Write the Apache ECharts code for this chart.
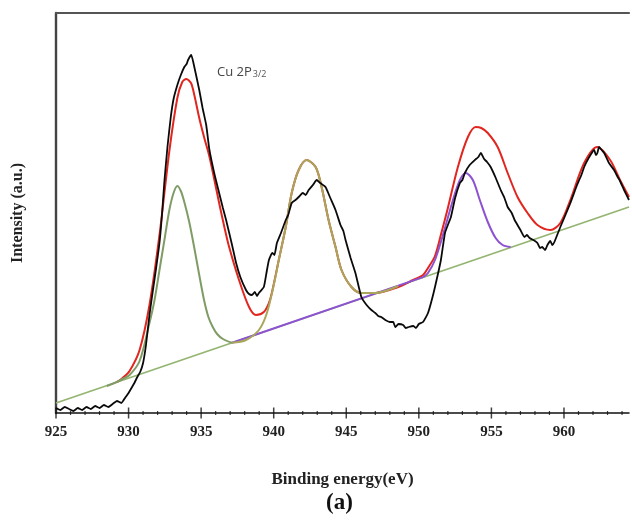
<!DOCTYPE html>
<html>
<head>
<meta charset="utf-8">
<script src="https://cdn.jsdelivr.net/npm/echarts@6/dist/echarts.min.js"></script>
<style>
  html, body { margin: 0; padding: 0; background: #fff; }
  #chart { width: 632px; height: 527px; }
</style>
</head>
<body>
<div id="chart"></div>
<script>
// Cu 2p XPS spectrum: binding energy (eV) vs intensity (arbitrary units)
const energyTicks = [925, 930, 935, 940, 945, 950, 955, 960];
const minorEnergyTicks = [
  926, 927, 928, 929, 931, 932, 933, 934, 936, 937, 938, 939, 941, 942, 943, 944,
  946, 947, 948, 949, 951, 952, 953, 954, 956, 957, 958, 959, 961, 962, 963, 964
];

// measured spectrum [eV, intensity]
const measured = [
  [925.0, 5], [925.3, 3], [925.6, 6], [925.9, 4], [926.2, 2], [926.5, 5], [926.8, 3],
  [927.1, 6], [927.4, 4], [927.7, 7], [928.0, 5], [928.3, 8], [928.6, 6], [928.9, 9],
  [929.2, 12], [929.5, 10], [929.8, 16], [930.0, 20], [930.2, 25], [930.4, 30],
  [930.6, 36], [930.8, 41], [931.0, 50], [931.2, 68], [931.44, 98], [931.7, 125],
  [931.9, 145], [932.13, 170], [932.3, 198], [932.47, 232], [932.68, 266], [932.9, 295],
  [933.1, 314], [933.36, 328], [933.6, 338], [933.84, 346], [934.0, 349], [934.1, 353],
  [934.32, 358], [934.5, 348], [934.87, 323], [935.1, 305], [935.35, 288], [935.56, 264],
  [935.9, 240], [936.24, 220], [936.5, 205], [936.72, 193], [937.13, 168], [937.41, 150],
  [937.7, 136], [938.09, 123], [938.3, 119], [938.5, 118], [938.7, 121], [938.85, 117],
  [938.98, 120], [939.32, 126], [939.5, 140], [939.67, 153], [939.9, 160], [940.05, 158],
  [940.22, 170], [940.5, 180], [940.83, 193], [941.0, 198], [941.24, 210], [941.5, 213],
  [941.72, 216], [942.0, 220], [942.2, 218], [942.41, 223], [942.7, 228], [942.96, 233],
  [943.2, 230], [943.57, 226], [943.9, 215], [944.26, 203], [944.6, 188], [944.8, 182],
  [944.95, 173], [945.3, 155], [945.63, 140], [946.04, 116], [946.4, 108], [946.73, 103],
  [947.0, 100], [947.2, 97], [947.41, 96], [947.69, 93], [948.0, 91], [948.24, 91],
  [948.37, 86], [948.6, 89], [948.92, 88], [949.1, 85], [949.3, 86], [949.61, 87],
  [949.8, 85], [950.0, 89], [950.29, 91], [950.63, 100], [950.98, 118], [951.3, 138],
  [951.52, 153], [951.8, 180], [952.0, 188], [952.21, 196], [952.5, 215], [952.83, 230],
  [953.0, 233], [953.17, 240], [953.5, 248], [953.86, 253], [954.1, 256], [954.27, 260],
  [954.5, 254], [954.7, 251], [954.95, 246], [955.3, 235], [955.64, 223], [955.9, 215],
  [956.12, 206], [956.4, 200], [956.6, 193], [957.0, 183], [957.28, 176], [957.45, 178],
  [957.63, 175], [958.0, 172], [958.17, 170], [958.35, 165], [958.5, 166], [958.7, 163],
  [958.86, 168], [959.06, 172], [959.2, 168], [959.34, 171], [959.75, 186], [960.1, 198],
  [960.44, 210], [960.9, 228], [961.2, 238], [961.39, 246], [961.7, 255], [962.08, 263],
  [962.2, 258], [962.3, 260], [962.42, 266], [962.6, 263], [962.77, 260], [963.1, 250],
  [963.45, 243], [963.7, 236], [963.86, 232], [964.14, 223], [964.48, 213]
];

// total fitted envelope
const envelope = [
  [929.2, 31], [929.59, 35], [930.07, 42], [930.76, 63], [931.44, 108], [932.13, 178],
  [932.81, 262], [933.36, 315], [933.7, 331], [933.98, 334], [934.3, 330], [934.53, 318],
  [934.87, 295], [935.2, 276], [935.56, 257], [935.9, 234], [936.24, 210], [936.6, 186],
  [936.93, 166], [937.61, 133], [938.3, 106], [938.78, 98], [939.32, 101], [939.67, 110],
  [939.87, 120], [940.35, 153], [940.83, 186], [941.24, 220], [941.72, 243], [942.27, 253],
  [942.89, 246], [943.3, 226], [943.78, 193], [944.26, 166], [944.67, 143], [945.36, 126],
  [946.04, 120], [947.0, 120], [948.58, 126], [949.6, 133], [950.29, 138], [950.63, 145],
  [951.11, 157], [951.55, 180], [952.0, 205], [952.69, 246], [953.38, 276], [953.92, 286],
  [954.3, 285], [954.75, 280], [955.43, 266], [956.12, 240], [956.8, 216], [957.49, 200],
  [958.17, 188], [959.06, 183], [959.75, 190], [960.44, 213], [961.39, 250], [962.29, 266],
  [963.18, 253], [963.86, 233], [964.48, 216]
];

// Cu 2p3/2 main component
const peakMain = [
  [928.5, 27], [929.18, 31], [929.59, 34], [930.07, 38], [930.76, 52], [931.44, 90],
  [931.79, 113], [932.13, 143], [932.47, 173], [932.81, 203], [933.1, 220], [933.36, 227],
  [933.6, 222], [933.84, 211], [934.18, 191], [934.53, 165], [934.87, 138], [935.2, 113],
  [935.5, 96], [935.8, 86], [936.1, 79], [936.5, 74], [937.13, 70.2]
];

// satellite component
const peakSatellite = [
  [937.13, 70.2], [938.09, 73], [938.98, 83], [939.53, 100], [940.08, 133], [940.35, 153],
  [940.83, 186], [941.24, 220], [941.72, 243], [942.27, 253], [942.89, 246], [943.3, 226],
  [943.78, 193], [944.26, 166], [944.67, 143], [945.36, 126], [946.04, 120], [947.0, 120],
  [948.58, 127]
];

// Cu 2p1/2 component: flat background part, then the peak
const peak2p12Base = [[937.13, 70.2], [950.29, 135.9]];
const peak2p12 = [
  [950.29, 135.9], [950.63, 140], [951.11, 153], [951.66, 178], [952.35, 213],
  [952.83, 233], [953.24, 240], [953.72, 233], [954.2, 213], [954.75, 191],
  [955.29, 175], [955.77, 168], [956.32, 166]
];

// linear background
const background = [[925, 10], [964.48, 206]];

const chart = echarts.init(document.getElementById('chart'), null, { renderer: 'canvas' });

const serif = '"Liberation Serif", "Times New Roman", serif';
const xMin = 925, xMax = 964.48;

function line(name, data, color, width, z, smooth) {
  return {
    name, type: 'line', data,
    showSymbol: false, smooth: smooth === undefined ? 0.3 : smooth, z,
    lineStyle: { color, width },
    emphasis: { disabled: true }
  };
}

// axis tick marks drawn as thin rectangles sitting on the energy axis
function ticks(name, energies, size, offsetY) {
  return {
    name, type: 'scatter', data: energies.map(e => [e, 0]), clip: false, z: 7,
    symbol: 'rect', symbolSize: size, symbolOffset: [0, offsetY],
    itemStyle: { color: '#111' }, silent: true
  };
}

chart.setOption({
  animation: false,
  backgroundColor: '#fff',
  grid: { left: 56, right: 0, top: 13, bottom: 114 },
  xAxis: [
    {
      type: 'value', min: xMin, max: xMax, interval: 5, position: 'bottom',
      name: 'Binding energy(eV)', nameLocation: 'middle', nameGap: 58,
      nameTextStyle: { fontFamily: serif, fontWeight: 'bold', fontSize: 17, color: '#222' },
      axisLine: { show: true, lineStyle: { color: '#111', width: 1.5 } },
      axisTick: { show: false },
      axisLabel: {
        fontFamily: serif, fontWeight: 'bold', fontSize: 15, color: '#222', margin: 12,
        formatter: v => energyTicks.includes(v) ? String(v) : ''
      },
      splitLine: { show: false }
    },
    {
      // top frame line
      type: 'value', min: xMin, max: xMax, position: 'top',
      axisLine: { show: true, lineStyle: { color: '#555', width: 2.2 } },
      axisTick: { show: false }, axisLabel: { show: false }, splitLine: { show: false }
    }
  ],
  yAxis: {
    type: 'value', min: 0, max: 400,
    name: 'Intensity (a.u.)', nameLocation: 'middle', nameGap: 30, nameRotate: 90,
    nameTextStyle: { fontFamily: serif, fontWeight: 'bold', fontSize: 16, color: '#222' },
    axisLine: { show: true, lineStyle: { color: '#444', width: 2.4 } },
    axisTick: { show: false }, axisLabel: { show: false }, splitLine: { show: false }
  },
  series: [
    line('background', background, '#94b571', 1.8, 2, false),
    line('envelope', envelope, '#e1261f', 2, 3),
    line('Cu 2p1/2 base', peak2p12Base, '#8d52d1', 2, 4, false),
    line('Cu 2p1/2', peak2p12, '#8d52d1', 2, 4),
    line('Cu 2p3/2', peakMain, '#7f9c66', 2, 5),
    line('satellite', peakSatellite, '#a9a65c', 2, 5),
    line('measured', measured, '#0a0a0a', 1.8, 6, 0.15),
    ticks('major ticks', energyTicks, [1.5, 11], [0, -0.5]),
    ticks('minor ticks', minorEnergyTicks, [1.2, 4], [0, -2])
  ],
  graphic: [
    {
      type: 'text', left: 217, top: 66, z: 10,
      style: {
        text: '{a|Cu 2P}{b|3/2}',
        rich: {
          a: { fontFamily: '"Open Sans", sans-serif', fontSize: 13, fill: '#444', verticalAlign: 'bottom' },
          b: { fontFamily: '"Open Sans", sans-serif', fontSize: 9, fill: '#555', padding: [5, 0, 0, 1], verticalAlign: 'bottom' }
        }
      }
    },
    {
      type: 'text', left: 326, top: 492, z: 10,
      style: { text: '(a)', fontFamily: serif, fontWeight: 'bold', fontSize: 23, fill: '#111' }
    }
  ]
});
</script>
</body>
</html>
